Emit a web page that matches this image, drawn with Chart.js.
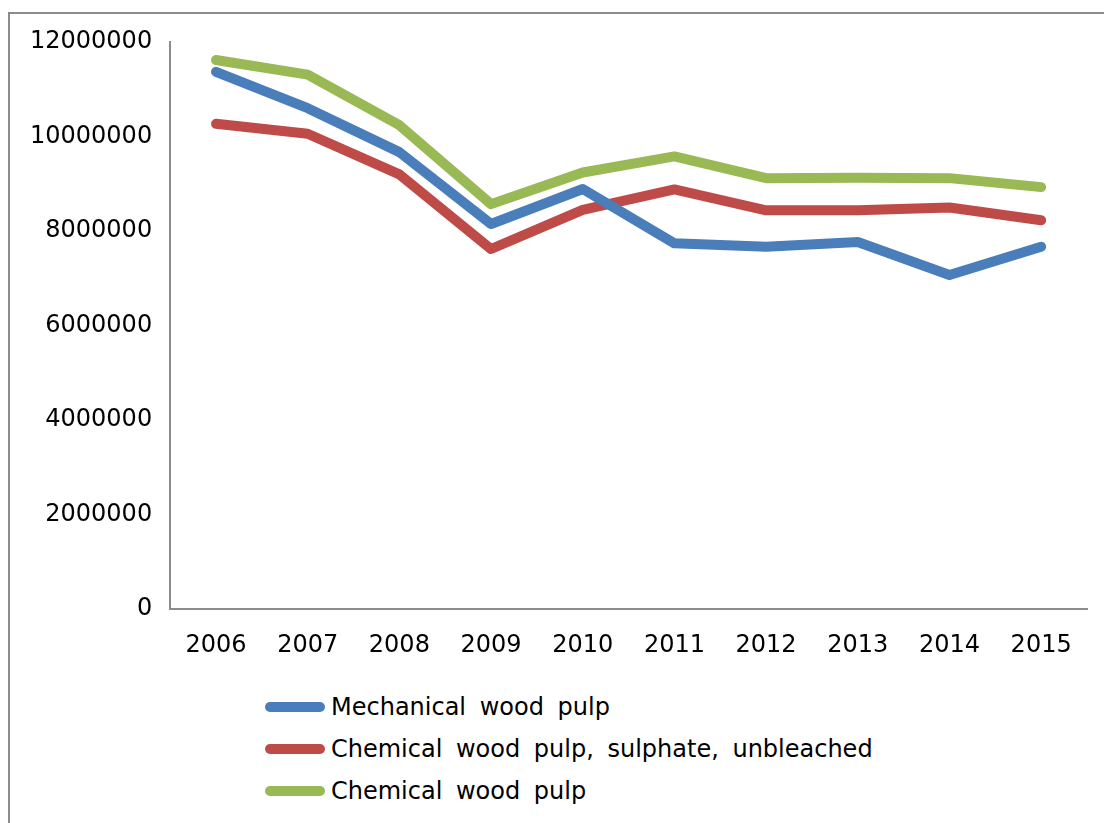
<!DOCTYPE html>
<html>
<head>
<meta charset="utf-8">
<script src="https://cdn.jsdelivr.net/npm/chart.js@4"></script>
<style>
  html, body { margin: 0; padding: 0; background: #fff; }
  body { width: 1104px; height: 823px; position: relative; overflow: hidden; font-family: "DejaVu Sans", sans-serif; }
  #frame { position: absolute; left: 8px; top: 12px; width: 1200px; height: 900px; border-left: 2px solid #8c8c8c; border-top: 2px solid #8c8c8c; }
  #wrap { position: absolute; left: 0; top: 0; width: 1104px; height: 682px; }
  #legend { position: absolute; left: 265px; top: 686px; }
  .item { display: flex; align-items: center; height: 42px; font-size: 24px; color: #000; word-spacing: 6px; }
  .swatch { width: 60px; height: 10px; border-radius: 5px; margin-right: 6px; }
</style>
</head>
<body>
<div id="frame"></div>
<div id="wrap"><canvas id="lineChart" width="1104" height="682"></canvas></div>
<div id="legend"></div>
<script>
const years = ['2006', '2007', '2008', '2009', '2010', '2011', '2012', '2013', '2014', '2015'];
const seriesNames = ['Mechanical wood pulp', 'Chemical wood pulp, sulphate, unbleached', 'Chemical wood pulp'];
const mechanical = [11370000, 10600000, 9670000, 8150000, 8890000, 7740000, 7670000, 7770000, 7070000, 7670000];
const sulphateUnbleached = [10270000, 10060000, 9200000, 7620000, 8450000, 8880000, 8440000, 8440000, 8500000, 8230000];
const chemical = [11620000, 11310000, 10240000, 8570000, 9240000, 9580000, 9120000, 9130000, 9120000, 8930000];
const colors = ['#4a7ebb', '#be4b48', '#98b954'];

const yTicks = { min: 0, max: 12000000, step: 2000000 };

const seriesValues = [mechanical, sulphateUnbleached, chemical];
const datasets = seriesValues.map((vals, i) => ({
  label: seriesNames[i],
  data: vals,
  borderColor: colors[i],
  backgroundColor: colors[i],
  borderWidth: 10,
  borderCapStyle: 'round',
  borderJoinStyle: 'round',
  pointRadius: 0,
  tension: 0,
  fill: false
}));

const ctx = document.getElementById('lineChart').getContext('2d');
const chart = new Chart(ctx, {
  type: 'line',
  data: { labels: years, datasets: datasets },
  options: {
    responsive: false,
    animation: false,
    layout: { padding: { left: 12, top: 42, right: 17, bottom: 0 } },
    plugins: {
      legend: { display: false },
      tooltip: { enabled: false }
    },
    scales: {
      x: {
        offset: true,
        grid: { display: false, drawTicks: false },
        border: { display: true, color: '#8c8c8c', width: 2 },
        ticks: { color: '#000', font: { family: 'DejaVu Sans', size: 24 }, padding: 22, maxRotation: 0 }
      },
      y: {
        min: yTicks.min,
        max: yTicks.max,
        grid: { display: false, drawTicks: false },
        border: { display: true, color: '#8c8c8c', width: 2 },
        ticks: {
          stepSize: yTicks.step,
          color: '#000',
          font: { family: 'DejaVu Sans', size: 24 },
          padding: 18,
          callback: v => String(v)
        }
      }
    }
  }
});

// vertical legend under the plot
const legendEl = document.getElementById('legend');
chart.data.datasets.forEach(ds => {
  const row = document.createElement('div');
  row.className = 'item';
  const sw = document.createElement('span');
  sw.className = 'swatch';
  sw.style.background = ds.borderColor;
  const txt = document.createElement('span');
  txt.textContent = ds.label;
  row.appendChild(sw);
  row.appendChild(txt);
  legendEl.appendChild(row);
});
</script>
</body>
</html>
